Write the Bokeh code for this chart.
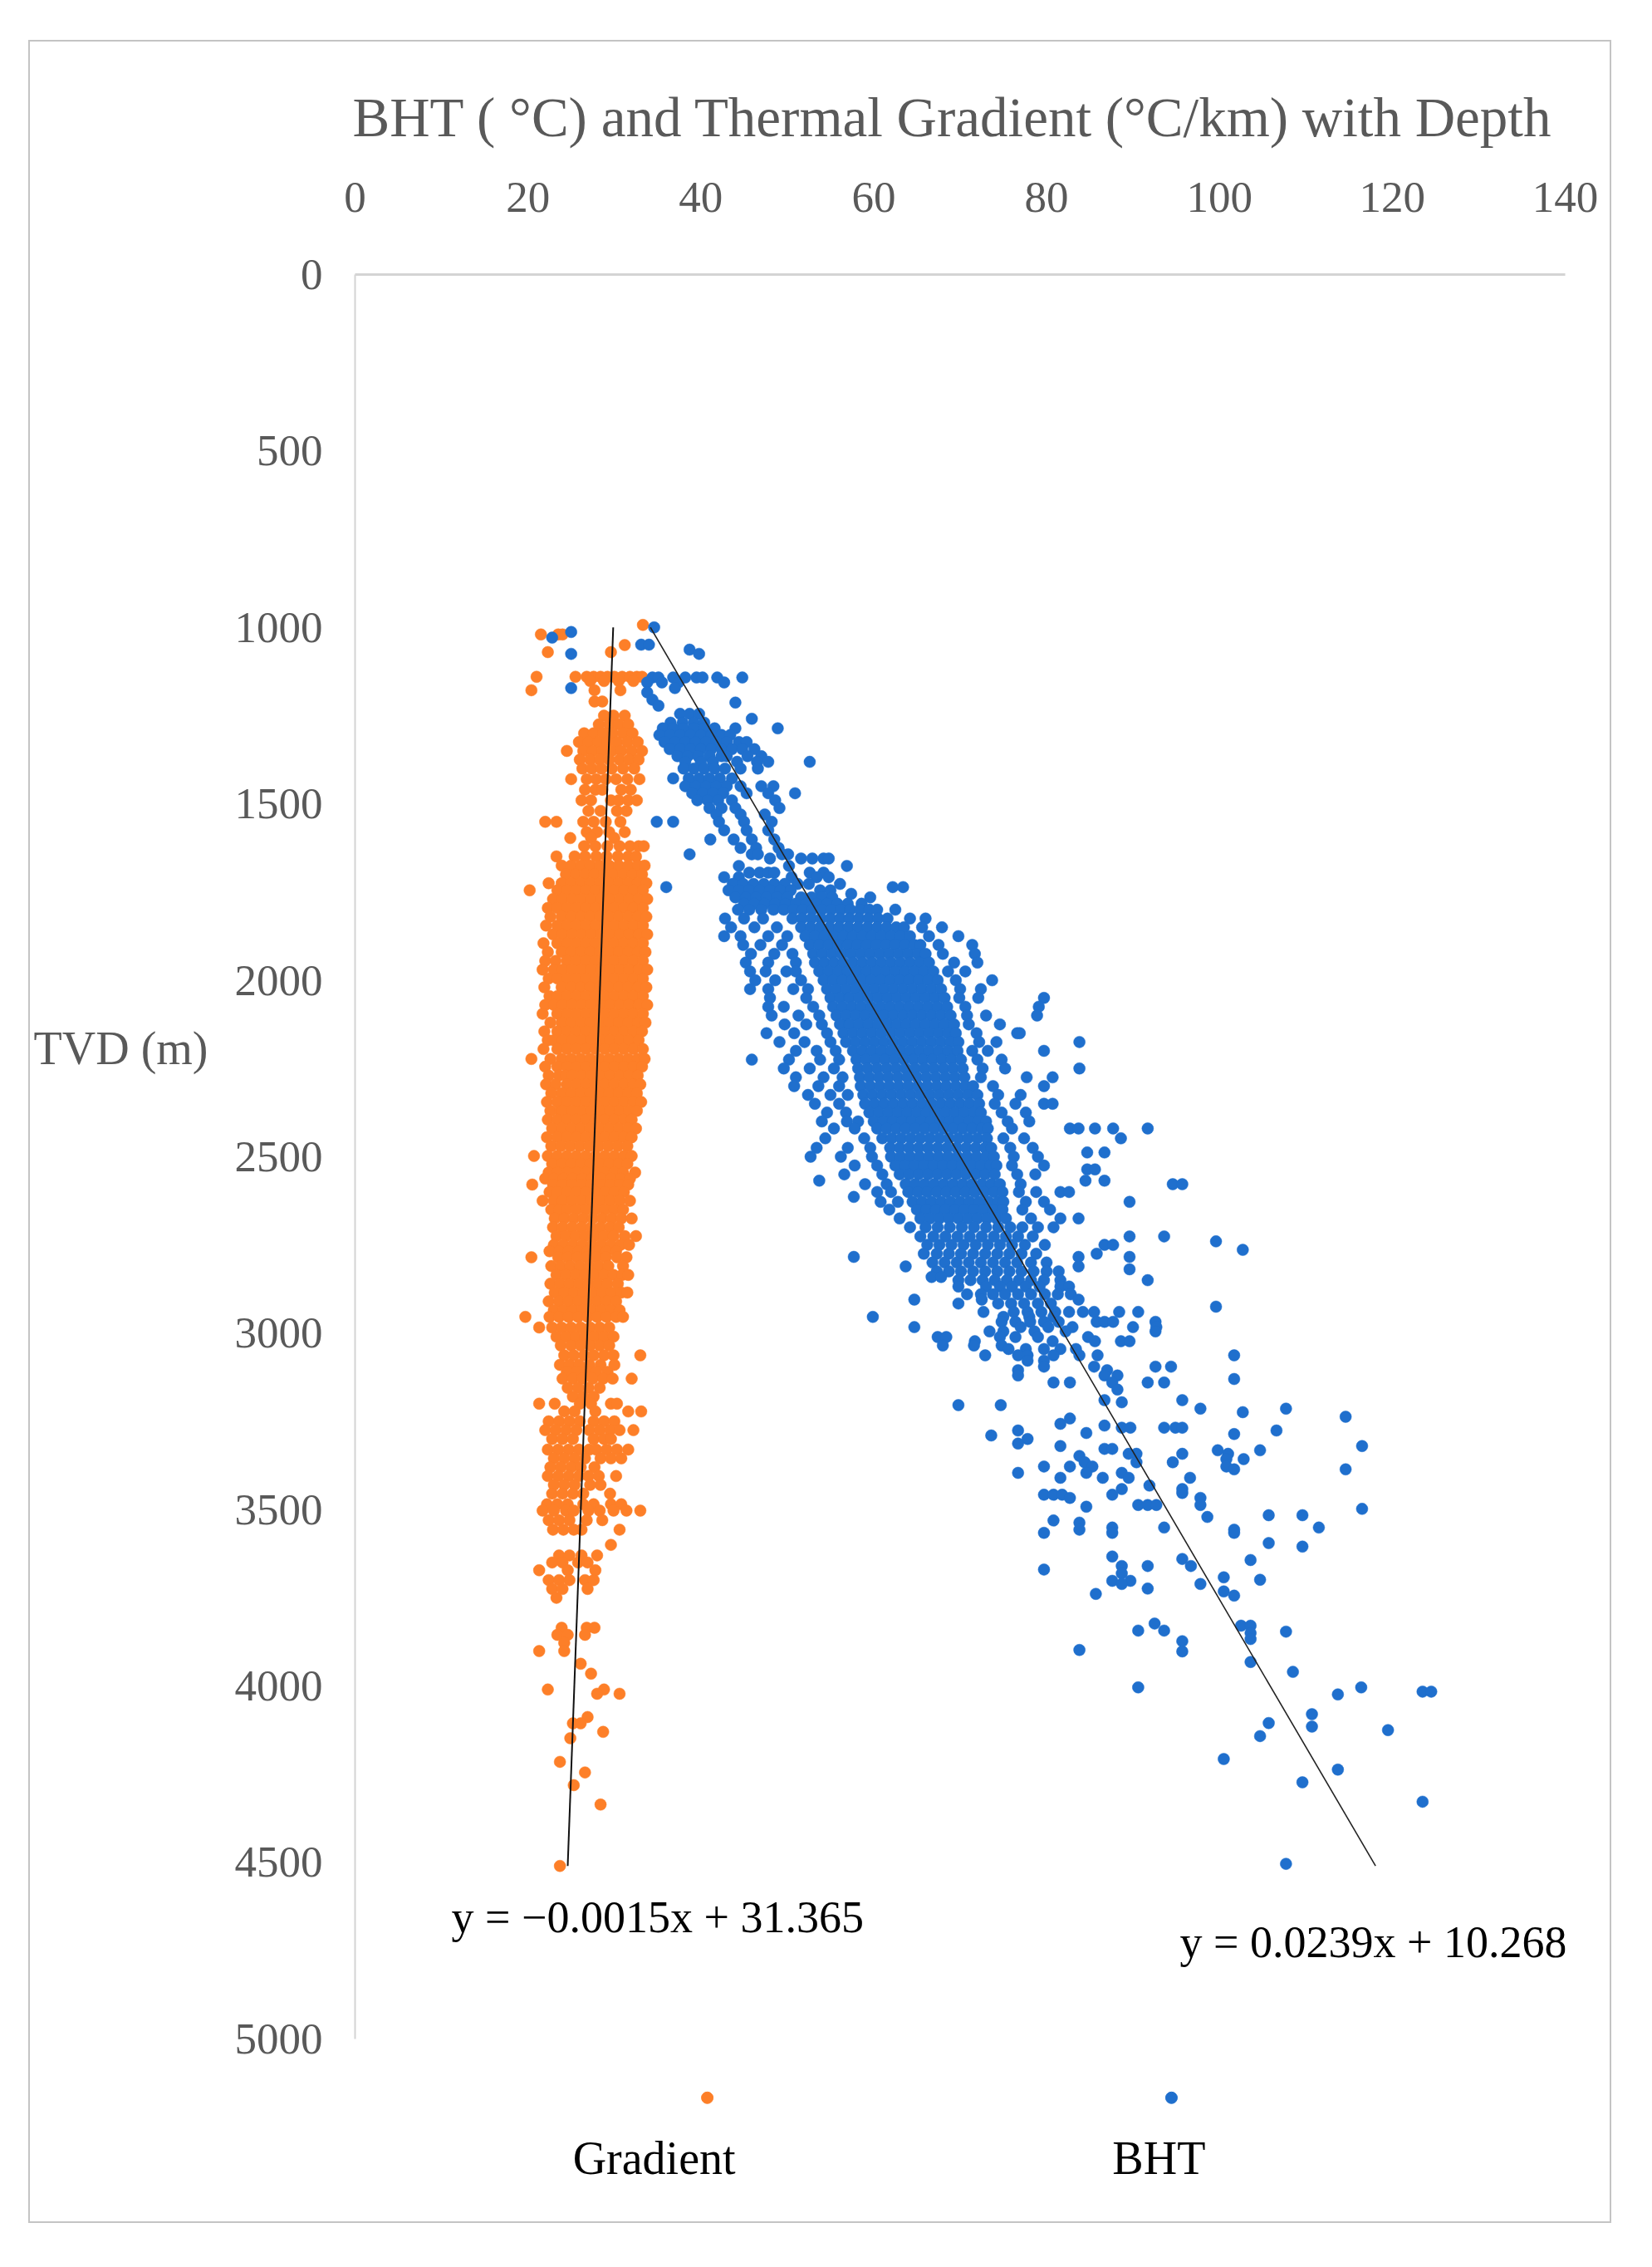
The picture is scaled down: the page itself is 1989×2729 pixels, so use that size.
from bokeh.plotting import figure
from bokeh.models import Range1d, FixedTicker, Label, LinearAxis
from bokeh.embed import file_html
from bokeh.resources import INLINE

# ---------------- data ----------------
x_ticks = [0, 20, 40, 60, 80, 100, 120, 140]
y_ticks = [0, 500, 1000, 1500, 2000, 2500, 3000, 3500, 4000, 4500, 5000]

series_names = ["Gradient", "BHT"]

# trend lines: value = slope * depth + intercept  (as printed on the chart)
gradient_trend = (-0.0015, 31.365)
bht_trend = (0.0239, 10.268)
trend_depth_span = [1000, 4510]
gradient_equation = "y = \u22120.0015x + 31.365"
bht_equation = "y = 0.0239x + 10.268"

# Thermal gradient (degC/km), grouped by depth (m)
gradient_rows = [
    (993, [33.3]),
    (1020, [21.5, 23.5, 24.0]),
    (1050, [31.2]),
    (1070, [22.3, 29.6]),
    (1140, [21.0, 25.5, 26.8, 27.6, 28.4, 29.2, 30.0, 30.9, 31.8, 32.6, 33.2]),
    (1152, [27.2, 28.8, 30.5, 32.2]),
    (1178, [20.4, 27.7, 30.7]),
    (1210, [27.7, 28.6]),
    (1250, [28.8, 29.9, 31.2]),
    (1275, [28.2, 29.4, 30.5, 31.6]),
    (1300, [26.5, 27.6, 28.7, 29.8, 31.0, 32.1]),
    (1325, [25.9, 27.0, 28.1, 29.2, 30.3, 31.5, 32.7]),
    (1350, [24.5, 26.4, 27.5, 28.6, 29.7, 30.8, 32.0, 33.2]),
    (1375, [26.0, 27.2, 28.3, 29.4, 30.6, 31.7, 32.8]),
    (1400, [26.3, 27.4, 28.5, 29.7, 31.0, 32.3]),
    (1430, [25.0, 26.8, 27.9, 29.0, 30.2, 31.5, 32.9]),
    (1460, [26.6, 27.8, 28.6, 30.8, 31.9]),
    (1490, [26.2, 27.3, 29.6, 30.5, 31.6, 32.6]),
    (1520, [27.0, 28.4, 30.3, 31.4]),
    (1551, [22.0, 23.3, 26.4, 27.6, 29.0, 30.7]),
    (1580, [26.8, 28.0, 29.4, 31.2]),
    (1597, [24.9, 27.3, 30.0]),
    (1620, [26.5, 27.8, 29.2, 30.6, 31.8, 32.8, 33.4]),
    (1649, [23.3, 25.4, 26.6, 27.9, 29.1, 30.4, 31.6, 32.5]),
    (1675, [23.9, 25.0, 26.1, 27.2, 28.3, 29.4, 30.5, 31.6, 32.7, 33.5]),
    (1700, [24.4, 25.5, 26.6, 27.7, 28.8, 29.9, 31.0, 32.1, 33.2]),
    (1725, [22.4, 23.9, 25.0, 26.1, 27.2, 28.3, 29.4, 30.5, 31.6, 32.7, 33.7]),
    (1745, [20.2, 23.4, 24.5, 25.6, 26.7, 27.8, 28.9, 30.0, 31.1, 32.2, 33.3]),
    (1770, [22.9, 24.0, 25.1, 26.2, 27.3, 28.4, 29.5, 30.6, 31.7, 32.8, 33.8]),
    (1795, [22.3, 23.4, 24.5, 25.6, 26.7, 27.8, 28.9, 30.0, 31.1, 32.2, 33.3]),
    (1820, [22.6, 23.9, 25.0, 26.1, 27.2, 28.3, 29.4, 30.5, 31.6, 32.7, 33.7]),
    (1845, [22.1, 23.4, 24.5, 25.6, 26.7, 27.8, 28.9, 30.0, 31.1, 32.2, 33.3]),
    (1870, [22.9, 24.0, 25.1, 26.2, 27.3, 28.4, 29.5, 30.6, 31.7, 32.8, 33.8]),
    (1895, [21.8, 23.4, 24.5, 25.6, 26.7, 27.8, 28.9, 30.0, 31.1, 32.2, 33.3]),
    (1920, [22.3, 23.9, 25.0, 26.1, 27.2, 28.3, 29.4, 30.5, 31.6, 32.7, 33.6]),
    (1945, [22.0, 23.2, 24.5, 25.6, 26.7, 27.8, 28.9, 30.0, 31.1, 32.2, 33.3]),
    (1970, [21.7, 23.0, 24.0, 25.1, 26.2, 27.3, 28.4, 29.5, 30.6, 31.7, 32.8, 33.8]),
    (1995, [22.4, 23.4, 24.5, 25.6, 26.7, 27.8, 28.9, 30.0, 31.1, 32.2, 33.3]),
    (2020, [21.9, 23.9, 25.0, 26.1, 27.2, 28.3, 29.4, 30.5, 31.6, 32.7, 33.7]),
    (2045, [22.5, 23.4, 24.5, 25.6, 26.7, 27.8, 28.9, 30.0, 31.1, 32.2, 33.3]),
    (2070, [22.0, 23.0, 24.0, 25.1, 26.2, 27.3, 28.4, 29.5, 30.6, 31.7, 32.8, 33.8]),
    (2095, [21.7, 23.4, 24.5, 25.6, 26.7, 27.8, 28.9, 30.0, 31.1, 32.2, 33.3]),
    (2120, [22.6, 23.9, 25.0, 26.1, 27.2, 28.3, 29.4, 30.5, 31.6, 32.7, 33.6]),
    (2145, [21.9, 23.4, 24.5, 25.6, 26.7, 27.8, 28.9, 30.0, 31.1, 32.2, 33.2]),
    (2170, [22.3, 23.0, 24.0, 25.1, 26.2, 27.3, 28.4, 29.5, 30.6, 31.7, 32.8]),
    (2195, [21.8, 23.4, 24.5, 25.6, 26.7, 27.8, 28.9, 30.0, 31.1, 32.2, 33.3]),
    (2223, [20.4, 22.6, 23.9, 25.0, 26.1, 27.2, 28.3, 29.4, 30.5, 31.6, 32.7, 33.5]),
    (2245, [22.0, 23.4, 24.5, 25.6, 26.7, 27.8, 28.9, 30.0, 31.1, 32.2, 33.2]),
    (2270, [22.4, 23.6, 24.4, 25.1, 26.2, 27.3, 28.4, 29.5, 30.6, 31.7, 32.7]),
    (2295, [22.1, 23.2, 24.5, 25.6, 26.7, 27.8, 28.9, 30.0, 31.1, 32.2, 33.0]),
    (2320, [22.7, 23.9, 25.0, 26.1, 27.2, 28.3, 29.4, 30.5, 31.6, 32.6]),
    (2345, [22.2, 23.4, 24.5, 25.6, 26.7, 27.8, 28.9, 30.0, 31.1, 32.2, 33.1]),
    (2370, [22.6, 23.7, 24.0, 25.1, 26.2, 27.3, 28.4, 29.5, 30.6, 31.7, 32.6]),
    (2395, [22.3, 23.4, 24.5, 25.6, 26.7, 27.8, 28.9, 30.0, 31.1, 32.0]),
    (2420, [22.8, 23.9, 25.0, 26.1, 27.2, 28.3, 29.4, 30.5, 31.6, 32.5]),
    (2445, [22.2, 23.4, 24.5, 25.6, 26.7, 27.8, 28.9, 30.0, 31.1, 32.0]),
    (2470, [22.7, 23.8, 24.9, 26.0, 27.1, 28.2, 29.3, 30.4, 31.5]),
    (2498, [20.7, 22.3, 23.4, 24.5, 25.6, 26.7, 27.8, 28.9, 30.0, 31.1, 32.0]),
    (2520, [22.8, 23.9, 25.0, 26.1, 27.2, 28.3, 29.4, 30.5, 31.5]),
    (2545, [22.4, 23.4, 24.5, 25.6, 26.7, 27.8, 28.9, 30.0, 31.0, 32.4]),
    (2562, [22.0, 23.0, 24.1, 25.2, 26.3, 27.4, 28.5, 29.6, 30.7, 31.8]),
    (2579, [20.5, 22.9, 24.0, 25.1, 26.2, 27.3, 28.4, 29.5, 30.6, 31.6]),
    (2600, [22.5, 23.4, 24.5, 25.6, 26.7, 27.8, 28.9, 30.0, 31.1]),
    (2625, [21.7, 23.0, 24.0, 25.1, 26.2, 27.3, 28.4, 29.5, 30.6, 31.8]),
    (2650, [22.7, 23.6, 24.5, 25.6, 26.7, 27.8, 28.9, 30.0, 31.0]),
    (2675, [23.1, 24.2, 25.3, 26.4, 27.5, 28.6, 29.7, 30.8, 32.0]),
    (2700, [22.9, 24.0, 25.1, 26.2, 27.3, 28.4, 29.5, 30.5]),
    (2725, [23.3, 24.4, 25.5, 26.6, 27.7, 28.8, 29.9, 31.2, 32.5]),
    (2750, [23.0, 24.1, 25.2, 26.3, 27.4, 28.5, 29.6, 30.7, 31.7]),
    (2768, [22.5, 23.6, 24.7, 25.8, 26.9, 28.0, 29.1, 30.2]),
    (2785, [20.4, 23.5, 24.6, 25.7, 26.8, 27.9, 29.0, 30.3, 31.4]),
    (2810, [22.7, 23.8, 24.9, 26.0, 27.1, 28.2, 29.3, 31.0]),
    (2835, [23.3, 24.4, 25.5, 26.6, 27.7, 28.8, 29.9, 30.9, 31.6]),
    (2860, [22.6, 23.7, 24.8, 25.9, 27.0, 28.1, 29.2, 30.4]),
    (2885, [23.1, 24.2, 25.3, 26.4, 27.5, 28.6, 29.7, 30.8, 31.5]),
    (2910, [22.4, 23.6, 24.7, 25.8, 26.9, 28.0, 29.1, 30.2]),
    (2935, [23.0, 24.1, 25.2, 26.3, 27.4, 28.5, 29.6, 30.6]),
    (2954, [19.7, 22.5, 23.6, 24.7, 25.8, 26.9, 28.0, 29.1, 30.2, 31.0]),
    (2984, [21.3, 22.8, 23.9, 25.0, 26.1, 27.2, 28.3, 29.4]),
    (3010, [23.3, 24.4, 25.5, 26.6, 27.7, 28.8, 29.9]),
    (3035, [23.8, 25.0, 26.1, 27.2, 28.3, 29.4]),
    (3063, [24.2, 25.3, 26.5, 27.6, 28.8, 29.9, 33.0]),
    (3090, [23.7, 24.8, 25.9, 27.1, 28.4, 30.0]),
    (3110, [24.5, 25.6, 26.8, 27.9, 29.2]),
    (3129, [24.0, 25.2, 26.3, 27.5, 28.7, 29.8, 32.0]),
    (3155, [24.6, 25.8, 27.0, 28.3]),
    (3180, [25.2, 26.4, 27.6]),
    (3200, [21.3, 23.1, 26.0, 27.3, 29.6, 30.3]),
    (3222, [24.2, 25.4, 27.8, 31.6, 33.1]),
    (3250, [22.4, 23.6, 24.8, 26.0, 27.6, 28.8, 30.0]),
    (3275, [22.0, 23.2, 24.4, 25.6, 27.1, 28.3, 29.5, 30.6, 32.2]),
    (3300, [22.8, 24.0, 25.2, 27.6, 28.8, 29.6]),
    (3330, [22.3, 23.5, 24.7, 25.9, 27.1, 27.9, 29.1, 30.3, 31.6]),
    (3355, [23.0, 24.2, 25.4, 26.6, 28.4, 29.6, 30.8]),
    (3380, [22.6, 23.8, 25.0, 26.1, 27.7]),
    (3405, [22.3, 23.5, 24.7, 25.9, 27.0, 28.2, 30.2]),
    (3430, [23.0, 24.2, 25.4, 27.2, 28.4]),
    (3455, [22.8, 24.0, 25.2, 26.4, 29.5]),
    (3485, [22.2, 23.4, 24.6, 26.4, 27.6, 29.6, 30.8]),
    (3503, [21.7, 23.0, 24.4, 25.3, 27.0, 28.3, 29.9, 31.4, 33.0]),
    (3530, [22.4, 23.6, 24.8, 26.8, 28.6]),
    (3557, [22.9, 24.1, 25.3, 26.2, 30.6]),
    (3600, [29.6]),
    (3630, [23.6, 24.8, 26.2, 28.0]),
    (3650, [22.8, 24.0, 25.8, 26.9]),
    (3672, [21.3, 24.6, 27.8]),
    (3700, [22.4, 23.6, 24.8, 26.6, 27.6]),
    (3725, [22.8, 24.0, 26.9]),
    (3750, [23.3]),
    (3835, [23.9, 26.8, 27.7]),
    (3855, [23.4, 24.6, 26.6]),
    (3878, [24.2]),
    (3901, [21.3, 24.2]),
    (3937, [26.1]),
    (3965, [27.3]),
    (4010, [22.3, 28.8]),
    (4022, [30.6, 28.0]),
    (4088, [26.9]),
    (4106, [25.2, 26.1]),
    (4130, [28.7]),
    (4148, [24.9]),
    (4215, [23.7]),
    (4245, [26.6]),
    (4281, [25.3]),
    (4336, [28.4]),
    (4510, [23.7]),
]

# Bottom-hole temperature (degC), grouped by depth (m)
bht_rows = [
    (1000, [34.6]),
    (1013, [25.0]),
    (1029, [22.8]),
    (1049, [33.1, 34.0]),
    (1063, [38.7]),
    (1075, [25.0, 39.8]),
    (1142, [34.4, 35.1, 36.8, 38.2, 39.5, 40.2, 41.9, 44.8]),
    (1156, [33.8, 35.5, 37.4, 42.7]),
    (1172, [25.0, 37.0]),
    (1184, [33.8]),
    (1205, [34.4]),
    (1213, [44.0]),
    (1222, [35.1]),
    (1245, [37.6, 38.7, 39.8]),
    (1259, [45.9]),
    (1270, [36.5, 37.9, 39.2, 40.4]),
    (1286, [35.6, 36.8, 38.0, 39.2, 40.4, 41.6, 44.0, 48.9]),
    (1305, [35.2, 36.4, 37.6, 38.8, 40.0, 41.2, 42.4, 43.4]),
    (1325, [35.8, 37.0, 38.2, 39.4, 40.6, 41.8, 43.0, 44.4, 45.3]),
    (1345, [36.4, 37.6, 38.8, 40.0, 41.2, 42.4, 43.6, 44.8, 46.2]),
    (1365, [37.3, 38.5, 39.7, 41.0, 42.4, 43.0, 45.4, 47.0]),
    (1381, [38.2, 40.0, 41.4, 44.2, 46.5, 47.8, 52.6]),
    (1400, [38.0, 39.2, 40.4, 41.6, 42.8, 44.6, 46.6]),
    (1428, [36.8, 38.6, 39.8, 41.0, 42.2, 43.6]),
    (1450, [38.2, 39.4, 40.6, 41.8, 43.0, 44.6, 47.0, 48.4]),
    (1470, [39.0, 40.2, 41.4, 42.6, 45.3, 47.8, 50.9]),
    (1490, [39.6, 40.8, 42.0, 43.6, 48.6]),
    (1512, [41.0, 42.4, 44.0, 49.1]),
    (1530, [41.8, 44.6, 47.4]),
    (1551, [34.9, 36.8, 42.1, 45.0, 48.2]),
    (1575, [42.7, 45.3, 47.8]),
    (1601, [41.1, 43.8, 45.9, 48.5]),
    (1625, [44.6, 46.4, 49.0]),
    (1643, [38.7, 45.9, 46.6, 49.4, 50.1]),
    (1655, [48.0, 51.6, 52.9, 54.2, 54.8]),
    (1676, [44.4, 50.2, 56.9]),
    (1695, [45.6, 46.8, 47.8, 48.5, 52.6, 54.2]),
    (1708, [42.7, 44.4, 50.5, 53.4, 54.8]),
    (1727, [43.7, 44.9, 46.1, 47.3, 48.5, 49.7, 51.2, 52.5, 56.1]),
    (1736, [36.0, 62.2, 63.4]),
    (1745, [43.2, 44.4, 45.6, 46.8, 48.0, 49.2, 50.4, 53.8, 55.0]),
    (1755, [57.4]),
    (1765, [44.0, 45.2, 46.4, 47.6, 48.8, 50.0, 51.6, 52.8, 54.0, 55.2, 59.6]),
    (1783, [45.0, 46.2, 47.4, 48.6, 49.8, 51.0, 52.2, 53.4, 54.6, 55.8, 57.0, 58.6]),
    (1800, [44.3, 45.6, 47.0, 48.4, 49.6, 50.7, 51.8, 52.9, 54.0, 55.1, 56.2, 57.3, 58.4, 59.5, 60.4, 62.5]),
    (1825, [42.8, 45.0, 47.2, 50.6, 51.7, 52.8, 53.9, 55.0, 56.1, 57.2, 58.3, 59.4, 60.5, 61.6, 64.2, 66.0]),
    (1850, [43.5, 46.2, 48.8, 51.6, 52.7, 53.8, 54.9, 56.0, 57.1, 58.2, 59.3, 60.4, 61.5, 62.6, 63.5, 65.6, 67.9]),
    (1875, [42.7, 44.6, 47.8, 50.0, 52.1, 53.2, 54.3, 55.4, 56.5, 57.6, 58.7, 59.8, 60.9, 62.0, 63.1, 64.2, 66.4, 69.8]),
    (1900, [44.9, 46.9, 49.4, 52.6, 53.7, 54.8, 55.9, 57.0, 58.1, 59.2, 60.3, 61.4, 62.5, 63.6, 64.7, 65.4, 67.5, 71.4]),
    (1925, [45.8, 48.5, 50.6, 53.0, 54.1, 55.2, 56.3, 57.4, 58.5, 59.6, 60.7, 61.8, 62.9, 64.0, 65.1, 66.0, 68.0, 71.7]),
    (1950, [45.2, 47.8, 51.0, 53.2, 54.3, 55.4, 56.5, 57.6, 58.7, 59.8, 60.9, 62.0, 63.1, 64.2, 65.3, 66.4, 69.3, 72.0]),
    (1975, [45.7, 47.5, 49.9, 51.0, 53.7, 54.8, 55.9, 57.0, 58.1, 59.2, 60.3, 61.4, 62.5, 63.6, 64.7, 65.8, 66.9, 68.6, 70.6]),
    (2000, [46.3, 48.6, 51.6, 54.2, 55.3, 56.4, 57.5, 58.6, 59.7, 60.8, 61.9, 63.0, 64.1, 65.2, 66.3, 67.4, 69.5, 73.7]),
    (2025, [45.7, 47.8, 50.7, 52.4, 54.6, 55.7, 56.8, 57.9, 59.0, 60.1, 61.2, 62.3, 63.4, 64.5, 65.6, 66.7, 67.8, 70.0, 72.4]),
    (2050, [48.0, 52.2, 55.0, 56.1, 57.2, 58.3, 59.4, 60.5, 61.6, 62.7, 63.8, 64.9, 66.0, 67.1, 68.2, 69.9, 72.1, 79.7]),
    (2075, [47.8, 49.6, 53.0, 55.3, 56.4, 57.5, 58.6, 59.7, 60.8, 61.9, 63.0, 64.1, 65.2, 66.3, 67.4, 68.5, 70.6, 79.1]),
    (2100, [48.2, 51.3, 53.7, 55.7, 56.8, 57.9, 59.0, 60.1, 61.2, 62.3, 63.4, 64.5, 65.6, 66.7, 67.8, 68.9, 70.8, 73.0, 78.9]),
    (2125, [49.7, 52.2, 54.0, 56.1, 57.2, 58.3, 59.4, 60.5, 61.6, 62.7, 63.8, 64.9, 66.0, 67.1, 68.2, 69.3, 71.0, 74.6]),
    (2150, [47.6, 50.8, 54.6, 56.5, 57.6, 58.7, 59.8, 60.9, 62.0, 63.1, 64.2, 65.3, 66.4, 67.5, 68.6, 69.5, 71.9, 76.6, 76.9]),
    (2175, [49.1, 52.0, 55.0, 56.8, 57.9, 59.0, 60.1, 61.2, 62.3, 63.4, 64.5, 65.6, 66.7, 67.8, 68.9, 69.8, 72.2, 74.2, 83.8]),
    (2200, [51.0, 53.4, 55.6, 57.6, 58.7, 59.8, 60.9, 62.0, 63.1, 64.2, 65.3, 66.4, 67.5, 68.6, 69.7, 71.4, 73.2, 79.7]),
    (2225, [45.9, 50.2, 53.8, 56.0, 58.0, 59.1, 60.2, 61.3, 62.4, 63.5, 64.6, 65.7, 66.8, 67.9, 69.0, 70.1, 72.0, 74.8]),
    (2250, [49.6, 52.6, 55.4, 58.2, 59.3, 60.4, 61.5, 62.6, 63.7, 64.8, 65.9, 67.0, 68.1, 69.2, 70.3, 72.6, 75.2, 83.8]),
    (2275, [51.0, 54.2, 56.4, 58.4, 59.5, 60.6, 61.7, 62.8, 63.9, 65.0, 66.1, 67.2, 68.3, 69.4, 70.5, 72.4, 77.7, 80.7]),
    (2300, [50.8, 53.6, 56.0, 58.5, 59.6, 60.7, 61.8, 62.9, 64.0, 65.1, 66.2, 67.3, 68.4, 69.5, 70.6, 71.5, 73.8, 79.7]),
    (2325, [52.4, 55.0, 57.0, 58.8, 59.9, 61.0, 62.1, 63.2, 64.3, 65.4, 66.5, 67.6, 68.7, 69.8, 70.9, 72.0, 74.4, 77.0]),
    (2350, [53.2, 56.0, 59.0, 60.1, 61.2, 62.3, 63.4, 64.5, 65.6, 66.7, 67.8, 68.9, 70.0, 71.1, 72.2, 74.0, 76.4, 79.7, 80.7]),
    (2375, [54.6, 56.8, 59.5, 60.6, 61.7, 62.8, 63.9, 65.0, 66.1, 67.2, 68.3, 69.4, 70.5, 71.6, 72.4, 74.8, 77.6]),
    (2400, [54.0, 56.9, 58.2, 60.0, 61.1, 62.2, 63.3, 64.4, 65.5, 66.6, 67.7, 68.8, 69.9, 71.0, 72.1, 73.0, 75.5, 78.0]),
    (2420, [55.4, 57.8, 60.4, 61.5, 62.6, 63.7, 64.8, 65.9, 67.0, 68.1, 69.2, 70.3, 71.4, 72.5, 73.2, 76.0, 82.7, 83.7, 85.6, 87.7, 91.7]),
    (2448, [54.4, 58.9, 61.0, 62.1, 63.2, 64.3, 65.4, 66.5, 67.6, 68.7, 69.8, 70.9, 72.0, 73.1, 75.0, 77.4, 88.6]),
    (2475, [53.4, 57.0, 59.6, 61.9, 63.0, 64.1, 65.2, 66.3, 67.4, 68.5, 69.6, 70.7, 71.8, 72.9, 73.6, 75.8, 78.4]),
    (2488, [84.7, 86.7]),
    (2500, [52.7, 56.2, 59.8, 62.0, 63.1, 64.2, 65.3, 66.4, 67.5, 68.6, 69.7, 70.8, 71.9, 73.0, 73.9, 76.2, 79.0]),
    (2525, [57.8, 60.4, 62.5, 63.6, 64.7, 65.8, 66.9, 68.0, 69.1, 70.2, 71.3, 72.4, 73.5, 74.2, 76.0, 79.7]),
    (2536, [84.7, 85.6]),
    (2550, [56.6, 61.0, 63.0, 64.1, 65.2, 66.3, 67.4, 68.5, 69.6, 70.7, 71.8, 72.9, 74.0, 76.6, 78.7]),
    (2568, [53.7, 84.5, 86.7]),
    (2578, [59.0, 61.5, 63.7, 64.8, 65.9, 67.0, 68.1, 69.2, 70.3, 71.4, 72.5, 73.6, 74.6, 77.0, 94.6, 95.7]),
    (2600, [60.4, 62.0, 64.0, 65.1, 66.2, 67.3, 68.4, 69.5, 70.6, 71.7, 72.8, 73.9, 74.9, 76.8, 78.8, 81.6, 82.6]),
    (2614, [57.7]),
    (2628, [60.8, 62.8, 64.5, 65.6, 66.7, 67.8, 68.9, 70.0, 71.1, 72.2, 73.3, 74.4, 75.0, 77.6, 79.7, 89.6]),
    (2650, [61.8, 65.0, 66.1, 67.2, 68.3, 69.4, 70.5, 71.6, 72.7, 73.8, 74.9, 77.2, 80.4]),
    (2675, [63.0, 65.4, 66.5, 67.6, 68.7, 69.8, 70.9, 72.0, 73.1, 74.2, 75.3, 78.2, 81.6, 83.7]),
    (2700, [64.2, 66.0, 67.4, 68.8, 70.2, 71.6, 73.0, 74.4, 75.8, 77.2, 79.0, 80.8]),
    (2726, [65.4, 66.9, 68.3, 69.7, 71.1, 72.5, 73.9, 75.3, 76.7, 78.4, 89.6, 93.6]),
    (2740, [99.6]),
    (2750, [66.2, 67.6, 69.0, 70.4, 71.8, 73.2, 74.6, 76.0, 77.5, 79.8, 86.7, 87.7]),
    (2764, [102.7]),
    (2775, [65.8, 67.3, 68.7, 70.1, 71.5, 72.9, 74.3, 75.7, 77.1, 78.8, 85.8]),
    (2784, [57.7, 83.7, 89.6]),
    (2800, [66.8, 68.2, 69.6, 71.0, 72.4, 73.8, 75.2, 76.6, 78.2, 80.0]),
    (2811, [63.7, 83.7]),
    (2819, [89.6]),
    (2825, [67.3, 68.7, 70.1, 71.5, 72.9, 74.3, 75.7, 77.1, 78.5, 80.0, 81.4]),
    (2841, [66.7, 67.8]),
    (2850, [69.8, 71.2, 72.6, 74.0, 75.4, 76.8, 78.2, 79.7, 81.6, 91.7]),
    (2868, [69.8, 73.0, 74.6, 76.0, 77.6, 79.2, 81.6, 82.6]),
    (2890, [70.8, 72.4, 73.8, 75.2, 76.7, 78.2, 79.8, 81.3, 82.8]),
    (2905, [64.7, 72.5, 83.7]),
    (2916, [69.8, 74.4, 75.9, 77.4, 79.0, 80.5]),
    (2925, [99.6]),
    (2940, [72.7, 76.2, 77.8, 79.4, 81.0, 82.6, 84.2, 85.5, 88.4, 90.6]),
    (2954, [59.9, 75.0, 78.0, 80.8]),
    (2968, [74.8, 76.4, 78.1, 79.7, 81.4, 85.8, 86.7, 87.7, 92.6]),
    (2983, [64.7, 77.0, 80.2, 83.0, 90.0, 92.7]),
    (2995, [73.4, 75.0, 78.6, 82.2, 92.6]),
    (3011, [67.4, 68.4, 74.6, 76.4, 79.0, 84.8]),
    (3023, [71.7, 80.7, 85.6, 88.6, 89.6]),
    (3035, [68.0, 71.6, 74.8]),
    (3045, [75.6, 77.6, 79.7, 81.6, 83.4]),
    (3063, [72.9, 76.7, 77.8, 80.8, 83.8, 85.9, 101.7]),
    (3078, [77.8, 79.7]),
    (3095, [79.7, 85.5, 92.6, 94.4]),
    (3105, [76.7, 87.0]),
    (3120, [76.7, 86.7, 88.2]),
    (3130, [101.7]),
    (3140, [80.8, 82.7, 87.6, 91.7, 93.6]),
    (3160, [88.2]),
    (3190, [86.7, 95.7]),
    (3196, [88.7]),
    (3204, [69.8, 74.7]),
    (3214, [97.8, 107.7]),
    (3224, [102.7]),
    (3237, [114.6]),
    (3242, [82.7]),
    (3257, [81.6]),
    (3262, [86.7]),
    (3268, [88.7, 89.7, 93.6, 94.9, 95.7]),
    (3276, [76.7, 106.6]),
    (3283, [84.6]),
    (3286, [101.7]),
    (3290, [73.6]),
    (3300, [77.8]),
    (3313, [76.7]),
    (3320, [81.6, 116.5]),
    (3328, [86.7, 87.6]),
    (3332, [99.8, 104.7]),
    (3342, [89.5, 90.4, 95.7, 101.0]),
    (3348, [83.8]),
    (3357, [100.8, 102.8]),
    (3366, [84.4, 90.4, 94.6]),
    (3378, [79.7, 82.7, 85.3, 100.8]),
    (3386, [101.7, 114.6]),
    (3396, [76.7, 84.6, 88.7]),
    (3410, [81.6, 86.5, 89.5, 96.6]),
    (3432, [91.9]),
    (3442, [88.7, 95.7]),
    (3453, [95.7]),
    (3458, [79.7, 80.8, 81.8, 87.6]),
    (3467, [82.7, 97.8]),
    (3487, [90.6, 91.7, 92.7, 97.8]),
    (3492, [84.6]),
    (3498, [116.5]),
    (3516, [105.7, 109.6]),
    (3521, [98.6]),
    (3531, [80.8]),
    (3537, [83.8]),
    (3551, [87.6, 93.6, 111.5]),
    (3557, [83.8, 101.7]),
    (3566, [79.7, 87.6, 101.7]),
    (3595, [105.7]),
    (3605, [109.6]),
    (3633, [87.6]),
    (3640, [95.7]),
    (3643, [103.6]),
    (3660, [88.7, 91.7, 96.7]),
    (3670, [79.7]),
    (3681, [88.7]),
    (3692, [100.5]),
    (3699, [104.7]),
    (3702, [87.6, 89.7]),
    (3711, [88.7, 97.8]),
    (3724, [91.7]),
    (3732, [100.5]),
    (3739, [85.7]),
    (3744, [101.7]),
    (3823, [92.5]),
    (3829, [102.5, 103.6]),
    (3843, [90.6, 93.6]),
    (3846, [107.7]),
    (3850, [103.6]),
    (3867, [103.6]),
    (3873, [95.7]),
    (3898, [83.8]),
    (3902, [95.7]),
    (3932, [103.6]),
    (3960, [108.5]),
    (4004, [90.6, 116.4]),
    (4016, [123.5, 124.5]),
    (4024, [113.7]),
    (4080, [110.7]),
    (4105, [105.7]),
    (4115, [110.7]),
    (4125, [119.5]),
    (4142, [104.7]),
    (4207, [100.5]),
    (4237, [113.7]),
    (4273, [109.6]),
    (4328, [123.5]),
    (4504, [107.7]),
]

# ---------------- derived columns ----------------
grad_depth = [d for d, vals in gradient_rows for v in vals]
grad_value = [v for d, vals in gradient_rows for v in vals]
bht_depth = [d for d, vals in bht_rows for v in vals]
bht_value = [v for d, vals in bht_rows for v in vals]

grad_trend_value = [gradient_trend[0] * d + gradient_trend[1] for d in trend_depth_span]
bht_trend_value = [bht_trend[0] * d + bht_trend[1] for d in trend_depth_span]

# ---------------- styling ----------------
ORANGE = "#fd7f28"
BLUE = "#1f6fcd"
GREY_TXT = "#595959"
AXIS_GREY = "#d4d4d4"
FONT = "Liberation Serif"
MARK = 14

p = figure(width=1906, height=2628,
           x_range=Range1d(0, 140), y_range=Range1d(5450, 0),
           x_axis_location="above",
           output_backend="svg", toolbar_location=None,
           min_border_left=391, min_border_right=58,
           min_border_top=280, min_border_bottom=33)
p.margin = (48, 0, 0, 34)
p.styles = {"border": "2px solid #c4c4c4"}

p.title.text = "BHT ( \u00b0C) and Thermal Gradient (\u00b0C/km) with Depth"
p.title.align = "left"
p.title.offset = -3
p.title.text_font = FONT
p.title.text_font_size = "67px"
p.title.text_font_style = "normal"
p.title.text_color = GREY_TXT
p.title.standoff = 78

p.outline_line_color = None
p.background_fill_color = "white"
p.border_fill_color = "white"
p.xgrid.visible = False
p.ygrid.visible = False

p.xaxis.ticker = FixedTicker(ticks=x_ticks)
p.yaxis.ticker = FixedTicker(ticks=y_ticks)
p.yaxis.bounds = (0, 5000)
for ax in (p.xaxis, p.yaxis):
    ax.major_tick_line_color = None
    ax.minor_tick_line_color = None
    ax.major_tick_out = 0
    ax.major_tick_in = 0
    ax.axis_line_color = AXIS_GREY
    ax.major_label_text_font = FONT
    ax.major_label_text_font_size = "53px"
    ax.major_label_text_color = GREY_TXT
p.xaxis.axis_line_width = 3
p.yaxis.axis_line_width = 2
p.xaxis.major_label_standoff = 76
p.yaxis.major_label_standoff = 39

# horizontal "TVD (m)" axis title: an extra label-only axis on the left
# (trailing blank lines lift the text block above the frame centre, as in the original)
tvd_axis = LinearAxis(axis_label="TVD (m)" + "\n" * 7,
                      ticker=FixedTicker(ticks=[]),
                      axis_line_color=None, major_tick_line_color=None,
                      minor_tick_line_color=None,
                      axis_label_orientation="horizontal",
                      axis_label_standoff=29,
                      axis_label_text_font=FONT,
                      axis_label_text_font_size="56px",
                      axis_label_text_line_height=1.04,
                      axis_label_text_font_style="normal",
                      axis_label_text_color=GREY_TXT)
p.add_layout(tvd_axis, "left")

# data
p.scatter(grad_value, grad_depth, size=MARK, fill_color=ORANGE, line_color=ORANGE,
          line_width=0.5)
p.scatter(bht_value, bht_depth, size=MARK, fill_color=BLUE, line_color=BLUE,
          line_width=0.5)

# trend lines
p.line(grad_trend_value, trend_depth_span, line_color="#111111", line_width=2)
p.line(bht_trend_value, trend_depth_span, line_color="#222222", line_width=1.6)

# equations
p.add_layout(Label(x=35.0, y=4656, text=gradient_equation, text_align="center",
                   text_baseline="middle", text_font=FONT, text_font_size="54px",
                   text_color="#000000"))
p.add_layout(Label(x=117.8, y=4727, text=bht_equation, text_align="center",
                   text_baseline="middle", text_font=FONT, text_font_size="54px",
                   text_color="#000000"))

# legend (marker above, label below)
legend_marker_x = [40.75, 94.45]
legend_label_x = [34.6, 93.0]
p.scatter([legend_marker_x[0]], [5167], size=MARK, fill_color=ORANGE, line_color=ORANGE)
p.scatter([legend_marker_x[1]], [5167], size=MARK, fill_color=BLUE, line_color=BLUE)
for name, lx in zip(series_names, legend_label_x):
    p.add_layout(Label(x=lx, y=5339, text=name, text_align="center",
                       text_baseline="middle", text_font=FONT, text_font_size="56px",
                       text_color="#000000"))

open("out.html", "w").write(file_html(p, INLINE))
